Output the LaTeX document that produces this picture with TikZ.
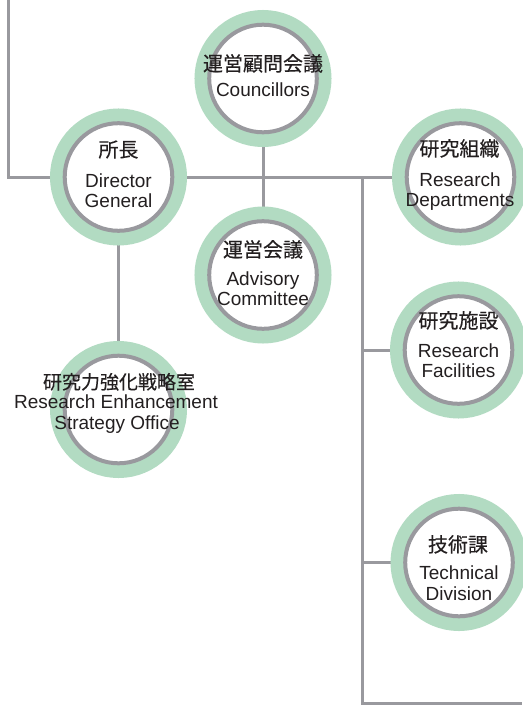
\documentclass[tikz,border=0pt]{standalone}
\usepackage{fontspec}
\setmainfont{Liberation Sans}
\newfontfamily\jpfont[FakeBold=0.3]{Noto Sans CJK JP}
\usetikzlibrary{backgrounds}
\definecolor{ringgreen}{RGB}{178,219,194}
\definecolor{linegray}{RGB}{153,153,158}
\definecolor{txtc}{RGB}{35,31,32}
\newcommand\enline[3]{\node[entxt] (#1) at (#2) {#3};}
\newcommand\jpline[3]{\node[jptxt] (#1) at (#2) {#3};}
\begin{document}
\begin{tikzpicture}[x=1pt,y=-1pt,
  ringnode/.style={circle, inner sep=0pt, minimum size=107.6pt,
    preaction={draw=ringgreen, line width=29.4pt},
    fill=white, draw=linegray, line width=4pt},
  conn/.style={draw=linegray, line width=3pt},
  entxt/.style={inner sep=0pt, anchor=base, text=txtc, font=\fontsize{19}{20}\selectfont},
  jptxt/.style={inner sep=0pt, anchor=base, text=txtc, font=\jpfont\fontsize{20}{22}\selectfont}]
\useasboundingbox (0,0) rectangle (522,706);

% circles
\node[ringnode] (co) at (263,78.5) {};
\node[ringnode] (dg) at (118.5,177) {};
\node[ringnode] (ad) at (263,275) {};
\node[ringnode] (rd) at (460.5,177) {};
\node[ringnode] (rf) at (458.5,350) {};
\node[ringnode] (td) at (459,562.5) {};
\node[ringnode] (re) at (118.5,409.5) {};

% free ends
\coordinate (tl) at (8,0);
\coordinate (j1) at (362,177);
\coordinate (jb) at (362,703.5);
\coordinate (je) at (522,703.5);

\begin{scope}[on background layer]
  \fill[white] (0,0) rectangle (522,706);
  \draw[conn] (tl) |- (dg);
  \draw[conn] (dg) -- (rd);
  \draw[conn] (co) -- (ad);
  \draw[conn] (dg) -- (re);
  \draw[conn] (j1) -- (jb) -- (je);
  \draw[conn] (rf -| j1) -- (rf);
  \draw[conn] (td -| j1) -- (td);
\end{scope}

% texts
\jpline{co-j}{263,71}{運営顧問会議}
\enline{co-e}{263,97}{Councillors}

\jpline{dg-j}{118.5,157}{所長}
\enline{dg-e1}{118.5,187}{Director}
\enline{dg-e2}{118.5,207}{General}

\jpline{ad-j}{263,257}{運営会議}
\enline{ad-e1}{263,285}{Advisory}
\enline{ad-e2}{263,305}{Committee}

\jpline{rd-j}{459.5,156}{研究組織}
\enline{rd-e1}{460,186}{Research}
\enline{rd-e2}{460,206}{Departments}

\jpline{rf-j}{458.5,328}{研究施設}
\enline{rf-e1}{458.5,357}{Research}
\enline{rf-e2}{458.5,377}{Facilities}

\jpline{td-j}{458,552}{技術課}
\enline{td-e1}{459,579}{Technical}
\enline{td-e2}{459,600}{Division}

\node[jptxt, font=\jpfont\fontsize{19}{21}\selectfont] (re-j) at (119,389) {研究力強化戦略室};
\enline{re-e1}{116,408.5}{Research Enhancement}
\enline{re-e2}{117,429.5}{Strategy Office}
\end{tikzpicture}
\end{document}
